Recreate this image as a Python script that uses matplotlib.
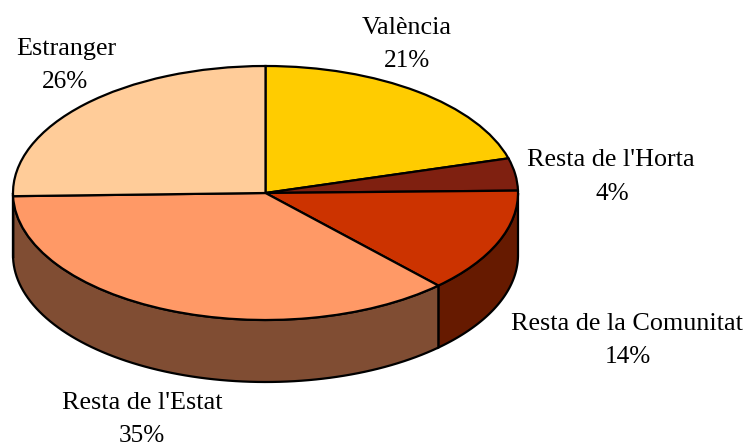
import numpy as np
import matplotlib.pyplot as plt
from matplotlib.patches import Polygon

plt.rcParams['font.family'] = ['Liberation Serif']

categories = ["València", "Resta de l'Horta", "Resta de la Comunitat", "Resta de l'Estat", "Estranger"]
percent_labels = ["21%", "4%", "14%", "35%", "26%"]
# slice sizes as drawn, they differ a little from the printed labels
shares = [20.6, 4.1, 13.3, 36.6, 25.4]

top_colors = ['#ffcc00', '#7f2010', '#cc3300', '#ff9966', '#ffcc99']
side_colors = ['#806600', '#401008', '#661a00', '#804d33', '#80664d']

W, H = 746, 446
cx, cy = 265.5, 193
rx, ry = 252.5, 127
depth = 62 / ry
lw = 1.6

fig = plt.figure(figsize=(W / 100, H / 100), dpi=100)
ax = fig.add_axes([0, 0, 1, 1])
wedges, _ = ax.pie(shares, startangle=90, counterclock=False, colors=top_colors,
                   wedgeprops={'edgecolor': 'black', 'linewidth': lw, 'zorder': 3})

# pie forces equal aspect, squash it into an ellipse
ax.set_aspect('auto')
ax.set_xlim(-cx / rx, (W - cx) / rx)
ax.set_ylim(-(H - cy) / ry, cy / ry)

# side wall, only the part of each slice facing front
for w, c in zip(wedges, side_colors):
    t1, t2 = w.theta1 % 360, w.theta2 % 360
    if t2 <= t1:
        t2 += 360
    lo, hi = max(t1, 180), min(t2, 360)
    if hi <= lo:
        continue
    t = np.radians(np.linspace(lo, hi, 80))
    x, y = np.cos(t), np.sin(t)
    pts = np.r_[np.c_[x, y], np.c_[x, y - depth][::-1]]
    ax.add_patch(Polygon(pts, closed=True, fc=c, ec='black', lw=lw, zorder=2))

label_pos = [(407, 28), (611, 160), (627, 324), (142, 403), (66, 49)]
pct_pos = [(407, 61), (612, 194), (628, 357), (142, 436), (65, 82)]
to_axes = lambda p: (p[0] / W, 1 - p[1] / H)
for name, pct, a, b in zip(categories, percent_labels, label_pos, pct_pos):
    ax.text(*to_axes(a), name, transform=ax.transAxes, ha='center', va='center', fontsize=18.8)
    ax.text(*to_axes(b), pct, transform=ax.transAxes, ha='center', va='center', fontsize=18.2)

fig.savefig('out.png', dpi=100)
